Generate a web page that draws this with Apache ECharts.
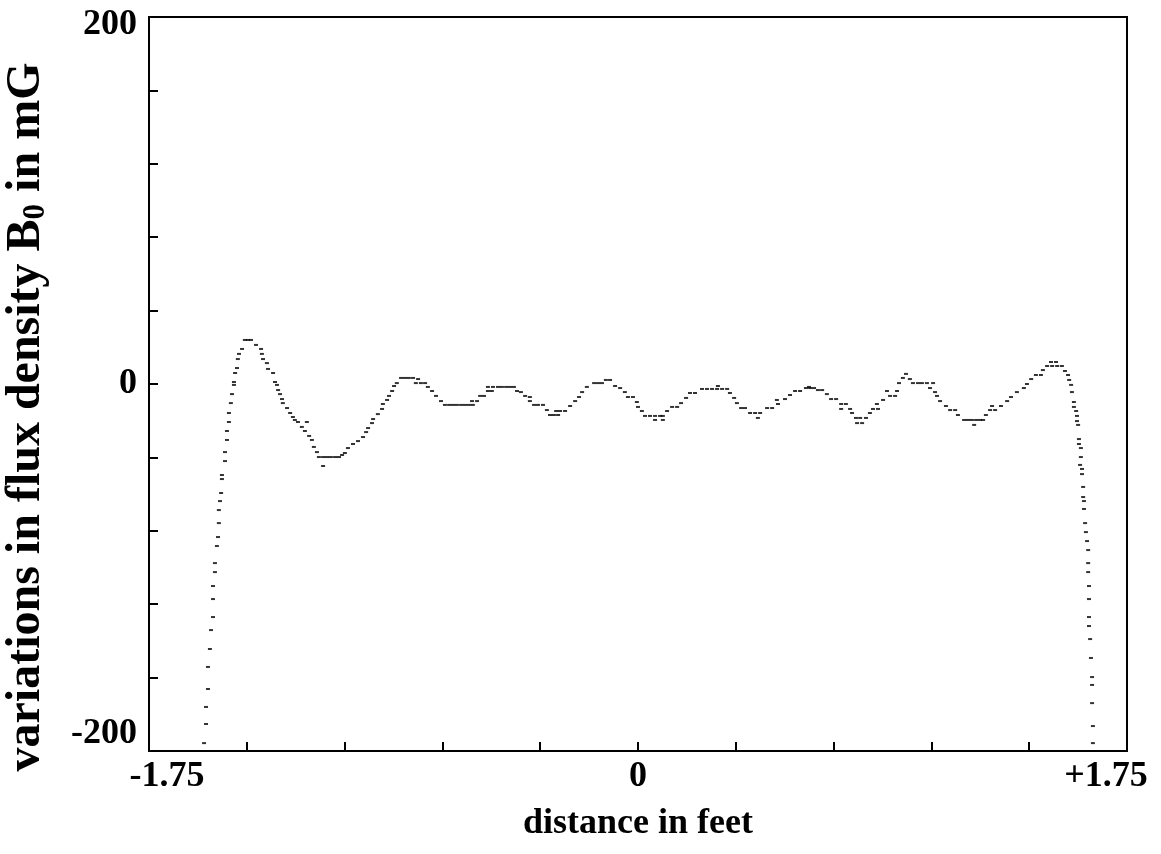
<!DOCTYPE html>
<html>
<head>
<meta charset="utf-8">
<script src="https://cdn.jsdelivr.net/npm/echarts@6/dist/echarts.min.js"></script>
<style>html,body{margin:0;padding:0;background:#fff}#c{width:1161px;height:854px}</style>
</head>
<body>
<div id="c"></div>
<script>
// distance in feet
var xFeet = [
-1.553,-1.546,-1.546,-1.539,-1.539,-1.532,-1.528,-1.521,-1.521,-1.521,-1.514,-1.514,-1.507,-1.503,-1.500,-1.500,-1.496,-1.492,-1.489,-1.489,
-1.478,-1.478,-1.471,-1.471,-1.464,-1.464,-1.457,-1.453,-1.446,-1.446,-1.442,-1.435,-1.432,-1.428,-1.417,-1.407,-1.396,-1.385,-1.367,-1.349,
-1.346,-1.342,-1.328,-1.324,-1.306,-1.299,-1.292,-1.288,-1.281,-1.274,-1.271,-1.256,-1.245,-1.235,-1.228,-1.217,-1.203,-1.192,-1.185,-1.177,
-1.167,-1.160,-1.149,-1.142,-1.127,-1.127,-1.113,-1.099,-1.084,-1.070,-1.059,-1.049,-1.038,-1.020,-1.002,-0.984,-0.973,-0.966,-0.952,-0.948,
-0.931,-0.916,-0.913,-0.898,-0.891,-0.880,-0.873,-0.863,-0.848,-0.834,-0.820,-0.805,-0.787,-0.795,-0.777,-0.762,-0.752,-0.737,-0.723,-0.705,
-0.691,-0.676,-0.662,-0.648,-0.633,-0.619,-0.605,-0.591,-0.594,-0.576,-0.565,-0.551,-0.537,-0.523,-0.537,-0.519,-0.501,-0.487,-0.472,-0.458,
-0.444,-0.433,-0.419,-0.404,-0.387,-0.387,-0.372,-0.358,-0.340,-0.326,-0.315,-0.301,-0.286,-0.293,-0.279,-0.261,-0.243,-0.225,-0.211,-0.200,
-0.183,-0.157,-0.143,-0.129,-0.115,-0.100,-0.082,-0.064,-0.047,-0.036,-0.018,-0.004,0.000,0.014,0.025,0.043,0.061,0.079,0.089,0.061,
0.089,0.104,0.122,0.140,0.154,0.172,0.186,0.204,0.229,0.247,0.265,0.283,0.301,0.319,0.286,0.329,0.344,0.354,0.369,0.383,
0.401,0.419,0.437,0.429,0.462,0.480,0.497,0.501,0.526,0.544,0.562,0.580,0.601,0.616,0.630,0.612,0.644,0.659,0.676,0.691,
0.709,0.727,0.744,0.727,0.759,0.766,0.780,0.795,0.784,0.802,0.816,0.830,0.841,0.859,0.855,0.877,0.891,0.902,0.920,0.927,
0.934,0.948,0.959,0.973,0.984,1.002,1.016,1.034,1.056,1.045,1.063,1.070,1.081,1.102,1.117,1.135,1.145,1.167,1.181,1.195,
1.210,1.224,1.235,1.203,1.245,1.260,1.278,1.267,1.299,1.321,1.335,1.356,1.381,1.392,1.407,1.424,1.442,1.449,1.464,1.482,
1.500,1.517,1.478,1.496,1.528,1.539,1.543,1.550,1.553,1.560,1.560,1.568,1.571,1.571,1.575,1.578,1.578,1.585,1.585,1.582,
1.589,1.589,1.593,1.593,1.596,1.596,1.600,1.603,1.607,1.611,1.611,1.611,1.614,1.614,1.614,1.614,1.618,1.621,1.625,1.625,
1.625,1.628,1.628
];
// variations in flux density B0 in mG
var bField = [
-195.7,-185.3,-176.0,-166.2,-154.2,-144.4,-134.1,-127.0,-117.2,-110.1,-102.5,-97.6,-88.3,-83.4,-75.8,-68.7,-63.8,-59.4,-51.8,-49.6,
-42.0,-37.1,-30.5,-25.6,-20.7,-15.8,-10.4,-5.5,-0.5,1.1,6.0,8.7,13.6,16.4,19.1,24.0,24.0,24.0,21.3,19.1,
16.4,13.6,11.4,8.2,6.0,1.1,-0.5,-3.3,-5.5,-8.2,-10.4,-13.1,-15.8,-18.0,-19.6,-20.7,-23.4,-25.6,-20.7,-28.3,
-30.5,-34.3,-37.1,-39.8,-44.7,-39.8,-39.8,-39.8,-39.8,-39.8,-38.7,-37.6,-34.9,-32.7,-31.1,-28.9,-26.2,-24.0,-21.3,-19.1,
-16.4,-13.6,-10.9,-8.7,-6.5,-3.8,-1.1,0.5,3.3,3.3,3.3,3.3,2.7,0.5,0.5,0.5,-1.6,-3.8,-6.5,-9.3,
-11.4,-11.4,-11.4,-11.4,-11.4,-11.4,-11.4,-11.4,-9.3,-9.3,-6.5,-6.5,-3.8,-3.8,-1.6,-1.6,-1.6,-1.6,-1.6,-1.6,
-1.6,-3.8,-4.4,-6.5,-7.1,-9.3,-11.4,-11.4,-11.4,-14.2,-16.9,-16.9,-16.9,-14.7,-14.7,-14.7,-12.0,-9.3,-7.1,-4.4,
-1.6,0.5,0.5,0.5,2.2,2.2,-1.1,-2.2,-4.4,-7.1,-7.1,-9.8,-12.5,-14.7,-17.4,-17.4,-17.4,-17.4,-17.4,-19.6,
-19.6,-14.7,-12.5,-12.5,-10.4,-7.6,-4.9,-4.9,-2.7,-2.7,-2.7,-2.7,-2.7,-2.7,-1.1,-4.9,-7.6,-10.4,-13.1,-13.1,
-15.8,-15.8,-15.8,-18.5,-13.1,-13.1,-8.7,-10.9,-8.2,-6.0,-3.8,-3.8,-2.2,-2.2,-2.2,-1.6,-3.3,-3.3,-5.5,-8.2,
-8.2,-10.9,-10.9,-13.6,-13.6,-15.8,-18.5,-18.5,-21.3,-21.3,-18.5,-15.8,-13.6,-13.6,-10.9,-8.7,-3.8,-6.5,-6.5,-3.8,
0.5,3.3,5.5,2.7,0.5,0.5,0.5,0.5,0.5,-2.2,-4.4,-6.5,-9.3,-12.0,-14.2,-14.2,-16.9,-19.6,-19.6,-19.6,
-19.6,-19.6,-19.6,-22.3,-16.9,-14.2,-14.2,-12.0,-12.0,-9.3,-7.1,-4.4,-2.2,0.0,2.7,4.9,4.9,7.6,9.8,9.8,
9.8,9.8,12.0,12.0,7.1,4.9,2.2,-0.5,-4.4,-9.8,-12.5,-14.7,-17.4,-20.2,-22.3,-30.0,-32.7,-34.9,-39.8,-44.1,
-46.3,-49.1,-56.1,-61.6,-63.8,-68.1,-75.8,-80.7,-85.6,-90.5,-97.6,-102.5,-110.1,-117.2,-127.0,-131.9,-139.0,-149.3,-159.7,-164.0,
-173.9,-186.4,-195.7
];
var xTickLabels = ['-1.75', '0', '+1.75'];
var yTickLabels = ['-200', '0', '200'];
var xTitle = 'distance in feet';
var yTitle = 'variations in flux density B{sub|0} in mG';

var points = xFeet.map(function (x, i) { return [x, bField[i]]; });
var FONT = '"Liberation Serif", "Times New Roman", serif';
var base = { fontFamily: FONT, fontWeight: 'bold', fontSize: 36, color: '#000' };
var yName = { fontFamily: FONT, fontWeight: 'bold', fontSize: 48, color: '#000' };
function near(a, b) { return Math.abs(a - b) < 1e-6; }

var chart = echarts.init(document.getElementById('c'), null, { renderer: 'canvas' });
chart.setOption({
  backgroundColor: '#fff',
  animation: false,
  grid: { left: 149, right: 34, top: 17, bottom: 103, containLabel: false, outerBoundsMode: 'none',
          show: true, borderColor: '#000', borderWidth: 2, backgroundColor: 'transparent' },
  xAxis: {
    type: 'value', min: -1.75, max: 1.75, interval: 0.35,
    name: xTitle, nameLocation: 'middle', nameGap: 55,
    nameTextStyle: base,
    axisLine: { show: true, onZero: false, lineStyle: { color: '#000', width: 2 } },
    axisTick: { show: true, inside: true, length: 9, lineStyle: { color: '#000', width: 2 } },
    splitLine: { show: false },
    axisLabel: Object.assign({}, base, {
      margin: 8, showMinLabel: true, showMaxLabel: true,
      formatter: function (v) {
        if (near(v, -1.75)) return '{l|' + xTickLabels[0] + '}';
        if (near(v, 0)) return xTickLabels[1];
        if (near(v, 1.75)) return '{r|' + xTickLabels[2] + '}';
        return '';
      },
      rich: {
        l: Object.assign({}, base, { padding: [0, 0, 0, 36] }),
        r: Object.assign({}, base, { padding: [0, 42, 0, 0] })
      }
    })
  },
  yAxis: {
    type: 'value', min: -200, max: 200, interval: 40,
    name: yTitle, nameLocation: 'middle', nameGap: 98,
    nameTextStyle: Object.assign({}, yName, {
      padding: [0, 66, 0, 0],
      rich: { sub: Object.assign({}, yName, { fontSize: 31, verticalAlign: 'bottom' }) }
    }),
    axisLine: { show: true, onZero: false, lineStyle: { color: '#000', width: 2 } },
    axisTick: { show: true, inside: true, length: 9, lineStyle: { color: '#000', width: 2 } },
    splitLine: { show: false },
    axisLabel: Object.assign({}, base, {
      margin: 12, showMinLabel: true, showMaxLabel: true,
      formatter: function (v) {
        if (near(v, -200)) return '{b|' + yTickLabels[0] + '}';
        if (near(v, 0)) return yTickLabels[1];
        if (near(v, 200)) return '{t|' + yTickLabels[2] + '}';
        return '';
      },
      rich: {
        t: Object.assign({}, base, { padding: [16, 0, 0, 0] }),
        b: Object.assign({}, base, { padding: [0, 0, 34, 0] })
      }
    })
  },
  series: [{
    type: 'scatter',
    data: points,
    symbol: 'rect',
    symbolSize: [4, 2],
    itemStyle: { color: '#000' },
    clip: true
  }]
});
</script>
</body>
</html>
